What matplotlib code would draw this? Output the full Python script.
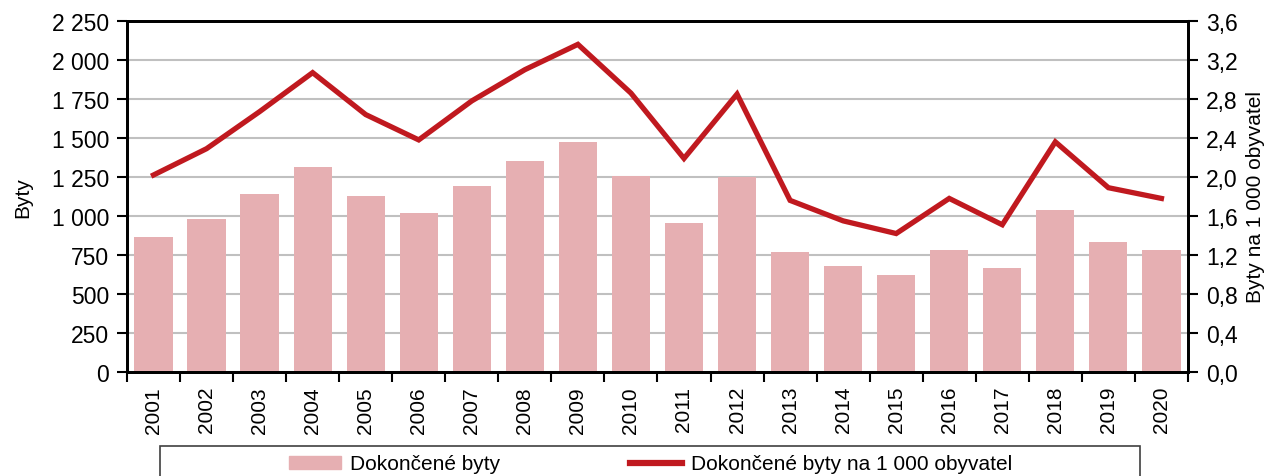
import matplotlib.pyplot as plt
import numpy as np
from matplotlib.patches import Rectangle
from matplotlib.lines import Line2D
from matplotlib.ticker import FuncFormatter, FixedLocator

plt.rcParams['font.family'] = ['Liberation Sans', 'DejaVu Sans']

# data
years = [str(y) for y in range(2001, 2021)]
byty = [865, 980, 1140, 1314, 1130, 1020, 1194, 1353, 1476, 1254,
        955, 1250, 771, 677, 624, 780, 667, 1040, 835, 784]
na_1000 = [2.02, 2.29, 2.67, 3.07, 2.64, 2.38, 2.78, 3.10, 3.36, 2.86,
           2.19, 2.85, 1.76, 1.55, 1.42, 1.78, 1.51, 2.36, 1.89, 1.78]

bar_color = '#e6afb2'
line_color = '#c0191f'
fs = 15

fig = plt.figure(figsize=(12.76, 4.77), dpi=100)
ax = fig.add_axes([0.0995, 0.218, 0.8315, 0.736])
ax2 = ax.twinx()

x = np.arange(len(years))
ax.bar(x, byty, 0.72, color=bar_color, zorder=2)
ax2.plot(x, na_1000, color=line_color, lw=3.8, solid_joinstyle='miter', zorder=3)

# left axis
ax.set_ylim(0, 2250)
ax.set_yticks(np.arange(0, 2251, 250))
ax.yaxis.set_major_formatter(FuncFormatter(lambda v, p: f'{int(v):,}'.replace(',', ' ')))
ax.grid(axis='y', color='#c0c0c0', lw=1.5, zorder=0)
ax.set_axisbelow(True)
ax.set_ylabel('Byty', fontsize=fs, labelpad=14)

# right axis
ax2.set_ylim(0, 3.6)
ax2.set_yticks(np.arange(0, 3.61, 0.4))
ax2.yaxis.set_major_formatter(FuncFormatter(lambda v, p: f'{v:.1f}'.replace('.', ',')))
ax2.set_ylabel('Byty na 1 000 obyvatel', fontsize=fs, labelpad=6)

# x axis: labels at centers, tick marks at boundaries
ax.set_xlim(-0.5, len(years) - 0.5)
ax.set_xticks(x)
ax.set_xticklabels(years, rotation=90, fontsize=fs)
ax.tick_params(axis='x', which='major', length=0, pad=10)
ax.xaxis.set_minor_locator(FixedLocator(np.arange(-0.5, len(years), 1)))
ax.tick_params(axis='x', which='minor', length=7, width=1.5, direction='out')

ax.tick_params(axis='y', labelsize=16.5, length=7, width=1.5, direction='out', pad=6)
ax2.tick_params(axis='y', labelsize=16.5, length=7, width=1.5, direction='out', pad=6)

for a in (ax, ax2):
    for s in a.spines.values():
        s.set_linewidth(2)
        s.set_color('black')

# legend box, cut by the bottom edge
fig.patches.append(Rectangle((160 / 1276, -0.08), 980 / 1276, 0.08 + 30 / 477,
                             transform=fig.transFigure, fill=False,
                             edgecolor='#404040', lw=1.2))
handles = [Rectangle((0, 0), 1, 1, color=bar_color),
           Line2D([0], [0], color=line_color, lw=4.5)]
fig.legend(handles, ['Dokončené byty', 'Dokončené byty na 1 000 obyvatel'],
           loc='center left', bbox_to_anchor=(270 / 1276, 12 / 477), ncol=2,
           frameon=False, fontsize=fs, handlelength=2.5, handleheight=0.6,
           handletextpad=0.45, columnspacing=6.2)

fig.savefig('out.png', dpi=100)
